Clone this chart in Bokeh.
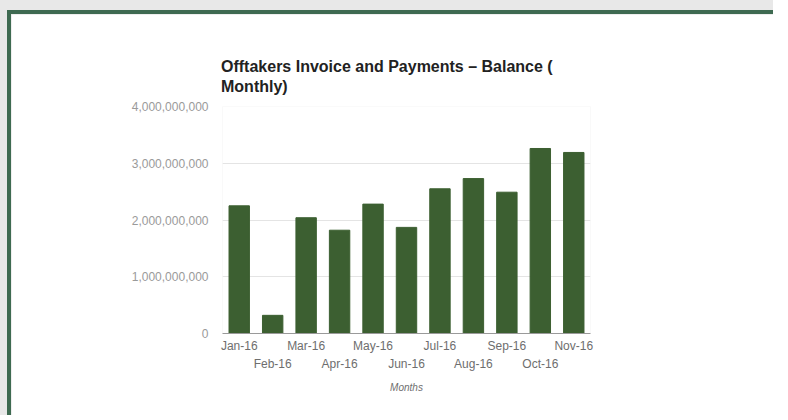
from bokeh.plotting import figure
from bokeh.layouts import column
from bokeh.models import Range1d, FixedTicker, LinearAxis, NumeralTickFormatter, Title
from bokeh.embed import file_html
from bokeh.resources import INLINE

# ---- data ----
months = ["Jan-16", "Feb-16", "Mar-16", "Apr-16", "May-16", "Jun-16",
          "Jul-16", "Aug-16", "Sep-16", "Oct-16", "Nov-16"]
balance = [2.25e9, 0.32e9, 2.04e9, 1.82e9, 2.28e9, 1.87e9,
           2.55e9, 2.73e9, 2.49e9, 3.26e9, 3.19e9]
y_ticks = [0, 1e9, 2e9, 3e9, 4e9]
title_lines = ["Offtakers Invoice and Payments \u2013 Balance (", "Monthly)"]
x_title = "Months"

FONT = "Liberation Sans"
BAR = "#3c5f31"
FRAME = "#3e6a51"

positions = list(range(len(months)))

p = figure(width=766, height=405, output_backend="svg", toolbar_location=None,
           x_range=Range1d(-0.5, len(months) - 0.5), y_range=Range1d(0, 4e9),
           x_axis_type=None, title=None,
           min_border_left=211, min_border_right=187,
           min_border_top=92, min_border_bottom=86,
           background_fill_color="white", border_fill_color="white",
           styles={"border-left": f"4px solid {FRAME}",
                   "border-top": f"4px solid {FRAME}"})
p.outline_line_color = None

p.vbar(x=positions, top=balance, width=0.61, color=BAR)

# y axis
yax = p.yaxis[0]
yax.ticker = FixedTicker(ticks=y_ticks)
yax.formatter = NumeralTickFormatter(format="0,0")
yax.axis_line_color = None
yax.major_tick_line_color = None
yax.minor_tick_line_color = None
yax.major_tick_out = 0
yax.major_tick_in = 0
yax.major_label_text_color = "#9a9a9a"
yax.major_label_text_font = FONT
yax.major_label_text_font_size = "12px"
yax.major_label_standoff = 14
p.ygrid.ticker = FixedTicker(ticks=y_ticks)
p.ygrid.grid_line_color = "#e4e4e4"

# x axes (staggered labels)
even = positions[0::2]
odd = positions[1::2]
ax1 = LinearAxis(ticker=FixedTicker(ticks=even),
                 major_label_overrides={i: months[i] for i in even})
ax2 = LinearAxis(ticker=FixedTicker(ticks=odd),
                 major_label_overrides={i: months[i] for i in odd},
                 axis_label=x_title)
for ax in (ax1, ax2):
    ax.major_tick_line_color = None
    ax.minor_tick_line_color = None
    ax.major_tick_out = 0
    ax.major_tick_in = 0
    ax.major_label_text_color = "#6e6e6e"
    ax.major_label_text_font = FONT
    ax.major_label_text_font_size = "12px"
ax1.axis_line_color = "#9a9a9a"
ax1.major_label_standoff = 5
ax2.axis_line_color = None
ax2.major_label_standoff = 1
ax2.axis_label_text_font = FONT
ax2.axis_label_text_font_size = "10px"
ax2.axis_label_text_font_style = "italic"
ax2.axis_label_text_color = "#6e6e6e"
ax2.axis_label_standoff = 8
p.add_layout(ax1, "below")
p.add_layout(ax2, "below")

# title (two lines)
t = Title(text="\n".join(title_lines), align="left", text_font=FONT,
          text_font_size="16px", text_font_style="bold", text_color="#222222",
          text_line_height=1.2, standoff=23, offset=-1.5)
p.add_layout(t, "above")

page = column(p, styles={"background-color": "#e8e8e8",
                         "padding-left": "7px", "padding-top": "10px"})

open("out.html", "w").write(file_html(page, INLINE))
